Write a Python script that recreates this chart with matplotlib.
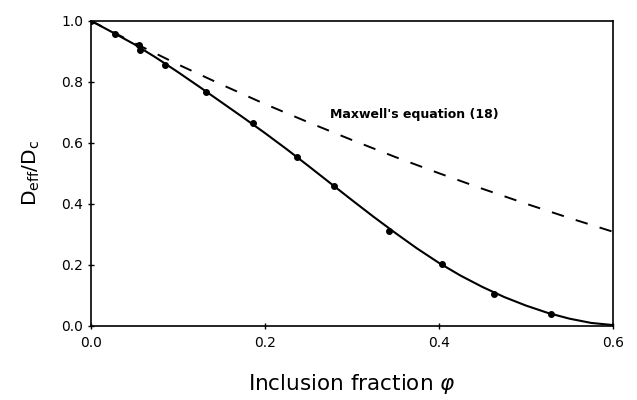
import matplotlib
matplotlib.use("Agg")
import matplotlib.pyplot as plt

# Measured data points (filled circles)
phi_pts = [0.0, 0.028, 0.055, 0.057, 0.085, 0.133, 0.186, 0.237, 0.279, 0.343, 0.404, 0.463, 0.529]
d_pts = [1.0, 0.956, 0.920, 0.904, 0.854, 0.767, 0.664, 0.552, 0.458, 0.310, 0.202, 0.103, 0.037]

# Solid fitted curve
phi_fit = [0.0, 0.025, 0.05, 0.075, 0.1, 0.125, 0.15, 0.175, 0.2, 0.225, 0.25, 0.275, 0.3,
           0.325, 0.35, 0.375, 0.4, 0.425, 0.45, 0.475, 0.5, 0.525, 0.55, 0.575, 0.6]
d_fit = [1.0, 0.962, 0.923, 0.879, 0.832, 0.783, 0.733, 0.683, 0.632, 0.579, 0.524, 0.468, 0.412,
         0.357, 0.304, 0.253, 0.206, 0.164, 0.127, 0.094, 0.066, 0.042, 0.023, 0.009, 0.002]

# Dashed Maxwell curve
phi_max = [0.0, 0.05, 0.1, 0.15, 0.2, 0.25, 0.3, 0.35, 0.4, 0.45, 0.5, 0.55, 0.6]
d_max = [1.0, 0.927, 0.857, 0.791, 0.727, 0.667, 0.609, 0.553, 0.5, 0.449, 0.4, 0.353, 0.308]

xticks = [0.0, 0.2, 0.4, 0.6]
yticks = [0.0, 0.2, 0.4, 0.6, 0.8, 1.0]

plt.rcParams['lines.scale_dashes'] = False
fig = plt.figure(figsize=(6.37, 4.0), dpi=100)
ax = fig.add_axes([0.1424, 0.1858, 0.8199, 0.7624])

ax.plot(phi_fit, d_fit, color='black', lw=1.5, solid_capstyle='butt')
ax.plot(phi_max, d_max, color='black', lw=1.4, dashes=(9, 9))
ax.plot(phi_pts, d_pts, 'o', color='black', ms=4)

ax.text(0.275, 0.691, "Maxwell's equation (18)", fontsize=9, fontweight='bold',
        va='center', ha='left')

ax.set_xlim(0, 0.6)
ax.set_ylim(0, 1.0)
ax.set_xticks(xticks)
ax.set_yticks(yticks)
ax.set_xticklabels([f"{t:.1f}" for t in xticks])
ax.set_yticklabels([f"{t:.1f}" for t in yticks])
ax.tick_params(direction='inout', length=5, width=1, labelsize=10, pad=3)
ax.tick_params(axis='x', pad=5)
for s in ax.spines.values():
    s.set_linewidth(1.2)

ax.set_xlabel(r"Inclusion fraction $\varphi$", fontsize=15.5, labelpad=16)
ax.set_ylabel(r"D$_{\mathrm{eff}}$/D$_{\mathrm{c}}$", fontsize=14.5, labelpad=14)

fig.savefig("out.png", dpi=100)
